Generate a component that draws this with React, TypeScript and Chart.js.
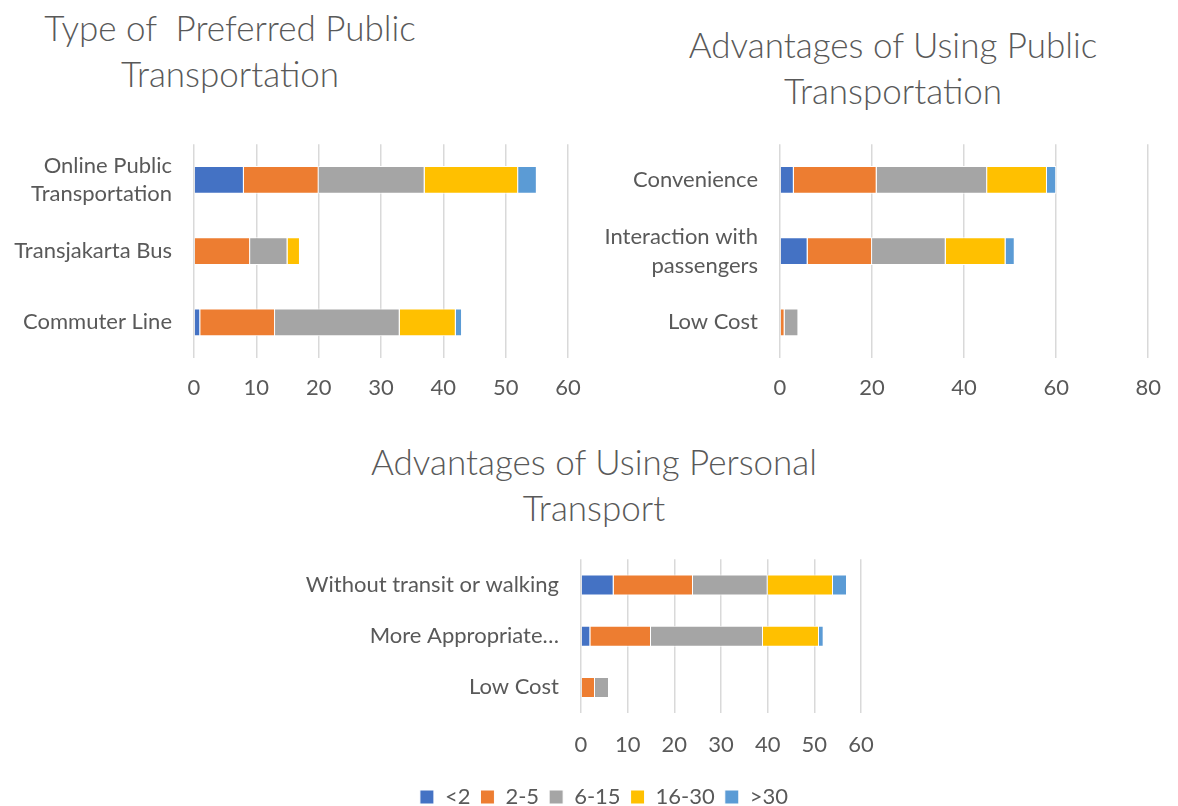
import React, { useEffect, useRef } from "react";
import { Chart, registerables } from "chart.js";

Chart.register(...registerables);

const FONT = "Lato, 'Noto Sans', sans-serif";
const TEXT_COLOR = "#595959";
const GRID_COLOR = "#d9d9d9";

const seriesNames = ["<2", "2-5", "6-15", "16-30", ">30"];
const seriesColors = ["#4472C4", "#ED7D31", "#A5A5A5", "#FFC000", "#5B9BD5"];

// Chart 1: Type of Preferred Public Transportation
const preferredCategories = [["Online Public", "Transportation"], "Transjakarta Bus", "Commuter Line"];
const preferredLt2 = [8, 0, 1];
const preferred2to5 = [12, 9, 12];
const preferred6to15 = [17, 6, 20];
const preferred16to30 = [15, 2, 9];
const preferredGt30 = [3, 0, 1];
const preferredAxisMax = 60;
const preferredAxisStep = 10;

// Chart 2: Advantages of Using Public Transportation
const publicCategories = ["Convenience", ["Interaction with", "passengers"], "Low Cost"];
const publicLt2 = [3, 6, 0];
const public2to5 = [18, 14, 1];
const public6to15 = [24, 16, 3];
const public16to30 = [13, 13, 0];
const publicGt30 = [2, 2, 0];
const publicAxisMax = 80;
const publicAxisStep = 20;

// Chart 3: Advantages of Using Personal Transport
const personalCategories = ["Without transit or walking", "More Appropriate…", "Low Cost"];
const personalLt2 = [7, 2, 0];
const personal2to5 = [17, 13, 3];
const personal6to15 = [16, 24, 3];
const personal16to30 = [14, 12, 0];
const personalGt30 = [3, 1, 0];
const personalAxisMax = 60;
const personalAxisStep = 10;

type PanelOpts = {
  categories: any[];
  series: number[][];
  max: number;
  step: number;
  padTop: number;
  yWidth: number;
  xHeight: number;
  xPad: number;
  rightWidth: number;
  barPct: number;
  showLegend: boolean;
};

function makeConfig(p: PanelOpts): any {
  const scales: any = {
    x: {
      stacked: true,
      min: 0,
      max: p.max,
      ticks: { stepSize: p.step, color: TEXT_COLOR, font: { family: FONT, size: 22 }, padding: p.xPad },
      grid: { color: GRID_COLOR, lineWidth: 1.5, drawTicks: false },
      border: { display: false },
      afterFit: (s: any) => {
        s.height = p.xHeight;
      },
    },
    y: {
      stacked: true,
      ticks: { color: TEXT_COLOR, font: { family: FONT, size: 22, lineHeight: 1.3 }, padding: 0 },
      grid: { display: false, drawTicks: true, tickLength: 22 },
      border: { display: false },
      afterFit: (s: any) => {
        s.width = p.yWidth;
      },
    },
    yRight: {
      type: "linear",
      position: "right",
      display: true,
      ticks: { display: false },
      grid: { display: false, drawTicks: false },
      border: { display: false },
      afterFit: (s: any) => {
        s.width = p.rightWidth;
      },
    },
  };
  return {
    type: "bar",
    data: {
      labels: p.categories,
      datasets: p.series.map((data, i) => ({
        label: seriesNames[i],
        data,
        backgroundColor: seriesColors[i],
        borderColor: "#ffffff",
        borderWidth: 1,
        categoryPercentage: 1,
        barPercentage: p.barPct,
        xAxisID: "x",
        yAxisID: "y",
      })),
    },
    options: {
      indexAxis: "y",
      responsive: false,
      animation: false,
      layout: { padding: { top: p.padTop, right: 0, bottom: 0, left: 0 } },
      plugins: {
        title: { display: false },
        tooltip: { enabled: false },
        legend: {
          display: p.showLegend,
          position: "bottom",
          labels: {
            boxWidth: 14,
            boxHeight: 14,
            color: TEXT_COLOR,
            font: { family: FONT, size: 22 },
            padding: 10,
          },
        },
      },
      scales,
    },
  };
}

function Panel(props: { left: number; top: number; width: number; height: number; opts: PanelOpts }) {
  const ref = useRef<HTMLCanvasElement>(null);
  useEffect(() => {
    const chart = new Chart(ref.current as HTMLCanvasElement, makeConfig(props.opts));
    return () => chart.destroy();
  }, []);
  return (
    <canvas
      ref={ref}
      width={props.width}
      height={props.height}
      style={{ position: "absolute", left: props.left, top: props.top, width: props.width, height: props.height }}
    />
  );
}

function Title(props: { cx: number; top: number; lines: string[] }) {
  return (
    <div
      style={{
        position: "absolute",
        left: props.cx - 300,
        top: props.top,
        width: 600,
        textAlign: "center",
        fontFamily: FONT,
        fontWeight: 300,
        fontSize: 35,
        lineHeight: "46px",
        color: TEXT_COLOR,
        whiteSpace: "pre",
      }}
    >
      {props.lines.map((l, i) => (
        <div key={i}>{l}</div>
      ))}
    </div>
  );
}

export default function App() {
  return (
    <div
      style={{
        position: "fixed",
        left: 0,
        top: 0,
        width: 1178,
        height: 806,
        overflow: "hidden",
        background: "#ffffff",
      }}
    >
      <Title cx={230} top={4} lines={["Type of  Preferred Public", "Transportation"]} />
      <Title cx={893} top={21} lines={["Advantages of Using Public", "Transportation"]} />
      <Title cx={594} top={438} lines={["Advantages of Using Personal", "Transport"]} />
      <Panel
        left={0}
        top={130}
        width={600}
        height={280}
        opts={{
          categories: preferredCategories,
          series: [preferredLt2, preferred2to5, preferred6to15, preferred16to30, preferredGt30],
          max: preferredAxisMax,
          step: preferredAxisStep,
          padTop: 12,
          yWidth: 194,
          xHeight: 52,
          xPad: 17,
          rightWidth: 32,
          barPct: 0.39,
          showLegend: false,
        }}
      />
      <Panel
        left={590}
        top={130}
        width={588}
        height={280}
        opts={{
          categories: publicCategories,
          series: [publicLt2, public2to5, public6to15, public16to30, publicGt30],
          max: publicAxisMax,
          step: publicAxisStep,
          padTop: 12,
          yWidth: 190,
          xHeight: 52,
          xPad: 17,
          rightWidth: 19,
          barPct: 0.39,
          showLegend: false,
        }}
      />
      <Panel
        left={268}
        top={545}
        width={672}
        height={273}
        opts={{
          categories: personalCategories,
          series: [personalLt2, personal2to5, personal6to15, personal16to30, personalGt30],
          max: personalAxisMax,
          step: personalAxisStep,
          padTop: 13,
          yWidth: 313,
          xHeight: 63,
          xPad: 19,
          rightWidth: 79,
          barPct: 0.41,
          showLegend: true,
        }}
      />
    </div>
  );
}
